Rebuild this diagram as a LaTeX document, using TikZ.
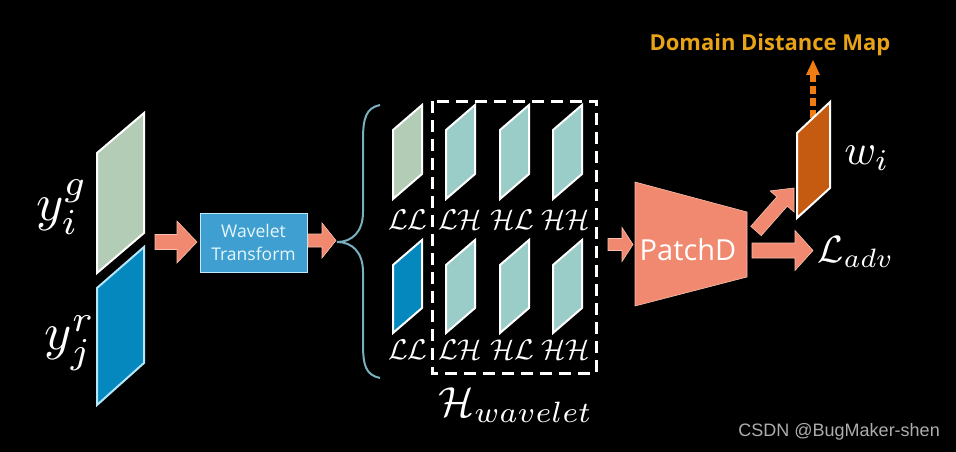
\documentclass[tikz,border=0pt]{standalone}
\usepackage{fontspec}
\newfontfamily\uisans{Open Sans}
\newfontfamily\csdnsans{Liberation Sans}
\usetikzlibrary{calc}
\definecolor{gfeat}{HTML}{B3CCB5}
\definecolor{bfeat}{HTML}{0588BE}
\definecolor{tfeat}{HTML}{9ACCC8}
\definecolor{wbox}{HTML}{3F9FD0}
\definecolor{salmon}{HTML}{F0896F}
\definecolor{salmonedge}{HTML}{F7C0B0}
\definecolor{ofeat}{HTML}{C55A11}
\definecolor{gold}{HTML}{E8A317}
\definecolor{bracec}{HTML}{7AAFBE}
\definecolor{dashor}{HTML}{F07C14}
\tikzset{
  feat/.style={draw=white, line width=2pt, line join=miter},
  fatarrowstyle/.style={fill=salmon, draw=salmonedge, line width=0.6pt, line join=miter},
  mlabel/.style={text=white, inner sep=0pt},
  sublabel/.style={text=white, inner sep=0pt, scale=2.85},
}
% fat arrow between two named coordinates: from, to, shaft half, head half, head length
\newcommand\fatarr[5]{%
  \coordinate (hb) at ($(#2)!#5!(#1)$);
  \filldraw[fatarrowstyle] ($(#1)!#3!90:(#2)$) -- ($(hb)!#3!-90:(#1)$) -- ($(hb)!#4!-90:(#1)$) -- (#2)
    -- ($(hb)!#4!90:(#1)$) -- ($(hb)!#3!90:(#1)$) -- ($(#1)!#3!-90:(#2)$) -- cycle;
}
\begin{document}
\begin{tikzpicture}[x=1pt,y=-1pt]
\fill[black] (0,0) rectangle (956,452);
\useasboundingbox (0,0) rectangle (956,452);

% input features
\filldraw[feat, fill=gfeat] (97,153) -- (144,113) -- (144,233) -- (97,273) -- cycle;
\filldraw[feat, draw=cyan!30, fill=bfeat] (97,288) -- (144,247) -- (144,363) -- (97,405) -- cycle;
\node[mlabel, scale=5.2] (yg) at (62,207) {$y_i^g$};
\node[mlabel, scale=5.2] (yr) at (70,343) {$y_j^r$};

% arrow 1
\coordinate (a1s) at (155,242);
\coordinate (a1e) at (197,242);
\fatarr{a1s}{a1e}{7.5pt}{21pt}{20pt}

% wavelet box
\node[draw=cyan!25, line width=1pt, fill=wbox, minimum width=107pt, minimum height=59pt, inner sep=0pt,
  text=cyan!10, align=center, font=\uisans\fontsize{17.5}{23}\selectfont] (wt) at (253.5,242.5) {Wavelet\\Transform};

% arrow 2
\coordinate (a2s) at (308,240.5);
\coordinate (a2e) at (336,240.5);
\fatarr{a2s}{a2e}{6.5pt}{17.5pt}{14pt}

% brace
\draw[bracec, line width=2pt] (380,105) .. controls (366,108) and (363,118) .. (363,140)
  -- (363,212) .. controls (363,232) and (352,242) .. (337,242)
  .. controls (352,242) and (363,252) .. (363,272)
  -- (363,344) .. controls (363,366) and (366,375) .. (380,378);

% subband features, top row
\filldraw[feat, fill=gfeat] (393,130) -- (422,105) -- (422,174) -- (393,199) -- cycle;
\foreach \xx in {446,500,553}{
  \filldraw[feat, fill=tfeat] (\xx,130) -- (\xx+29,105) -- (\xx+29,174) -- (\xx,199) -- cycle;
}
% bottom row
\filldraw[feat, fill=bfeat] (393,265) -- (422,240) -- (422,308) -- (393,333) -- cycle;
\foreach \xx in {446,500,553}{
  \filldraw[feat, fill=tfeat] (\xx,265) -- (\xx+29,240) -- (\xx+29,308) -- (\xx,333) -- cycle;
}
\node[sublabel] (ll1) at (408,220) {$\mathcal{LL}$};
\node[sublabel] (lh1) at (460,220) {$\mathcal{LH}$};
\node[sublabel] (hl1) at (512,220) {$\mathcal{HL}$};
\node[sublabel] (hh1) at (566,220) {$\mathcal{HH}$};
\node[sublabel] (ll2) at (408,350) {$\mathcal{LL}$};
\node[sublabel] (lh2) at (460,350) {$\mathcal{LH}$};
\node[sublabel] (hl2) at (512,350) {$\mathcal{HL}$};
\node[sublabel] (hh2) at (566,350) {$\mathcal{HH}$};

% dashed box
\draw[white, line width=3pt, dash pattern=on 12pt off 7pt] (432,101) rectangle (596,373);
\node[mlabel, scale=4.2] (hw) at (516,405) {$\mathcal{H}_{wavelet}$};

% arrow 3
\coordinate (a3s) at (608,244.5);
\coordinate (a3e) at (633,244.5);
\fatarr{a3s}{a3e}{6pt}{17pt}{11pt}

% PatchD
\filldraw[fill=salmon, draw=salmonedge, line width=0.6pt] (635,182) -- (747,212) -- (747,277) -- (635,306) -- cycle;
\node[text=white, inner sep=0pt, font=\uisans\fontsize{29}{32}\selectfont] (pd) at (688,250) {PatchD};

% arrow to L_adv
\coordinate (a4s) at (752,250.5);
\coordinate (a4e) at (813,250.5);
\fatarr{a4s}{a4e}{7.5pt}{20pt}{18pt}
\node[mlabel, anchor=west, scale=3.8] (ladv) at (817,252) {$\mathcal{L}_{adv}$};

% diagonal arrow to w_i
\coordinate (a5s) at (756,231);
\coordinate (a5e) at (794,188);
\fatarr{a5s}{a5e}{7pt}{16pt}{18pt}

% dashed orange arrow
\coordinate (dms) at (813,118);
\coordinate (dme) at (813,60);
\draw[dashor, line width=6.5pt, dash pattern=on 8pt off 4pt] (dms) -- (813,75);
\fill[dashor] (dme) -- (820,75) -- (806,75) -- cycle;

% w_i feature
\filldraw[feat, fill=ofeat] (797,133) -- (830,102) -- (830,188) -- (797,218) -- cycle;
\node[mlabel, scale=4.3] (wi) at (867,158) {$w_i$};

% title
\node[text=gold, inner sep=0pt, font=\uisans\bfseries\fontsize{22}{26}\selectfont] (ddm) at (770,45) {Domain Distance Map};

% watermark
\node[text=black!32!white, inner sep=0pt, anchor=east, font=\csdnsans\fontsize{18}{22}\selectfont] (wm) at (940,432) {CSDN @BugMaker-shen};
\end{tikzpicture}
\end{document}
